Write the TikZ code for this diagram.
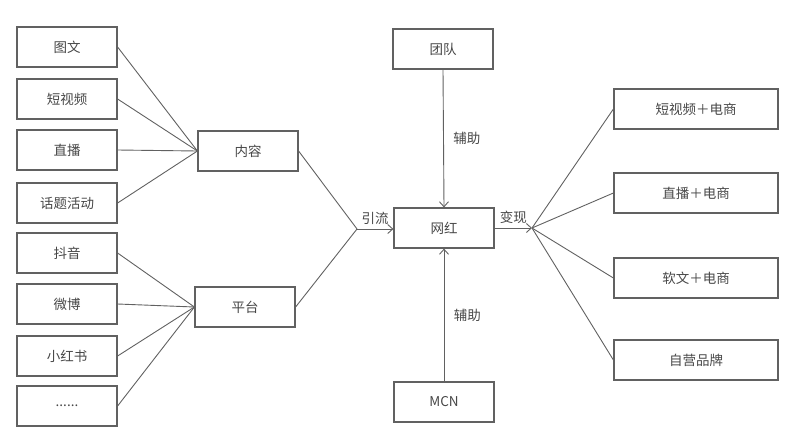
\documentclass[tikz,border=0pt]{standalone}
\usepackage{fontspec}
\newfontfamily\cjk{Noto Sans CJK SC}
\usetikzlibrary{arrows.meta}

\begin{document}
\begin{tikzpicture}[x=1pt,y=-1pt,
    box/.style={draw=black!62, line width=1.2pt, minimum width=100pt, minimum height=40pt,
        inner sep=0pt, font=\cjk\fontsize{13.5}{15}\selectfont, text=black!72},
    widebox/.style={box, minimum width=164pt},
    link/.style={draw=black!62, line width=0.9pt},
    tip/.style={link, -{Straight Barb[length=5pt,width=9pt]}},
    lbl/.style={font=\cjk\fontsize{13.5}{15}\selectfont, text=black!72}]
    \useasboundingbox (0,0) rectangle (800,442);

    % left column
    \node[box] (tuwen) at (67,47) {图文};
    \node[box] (duanshipin) at (67,99) {短视频};
    \node[box] (zhibo) at (67,150) {直播};
    \node[box] (huati) at (67,203) {话题活动};
    \node[box] (douyin) at (67,253) {抖音};
    \node[box] (weibo) at (67,304) {微博};
    \node[box] (xhs) at (67,356) {小红书};
    \node[box] (more) at (67,406) {......};

    % middle
    \node[box] (neirong) at (248,151) {内容};
    \node[box] (pingtai) at (245,307) {平台};
    \node[box] (wanghong) at (444,228) {网红};
    \node[box] (tuandui) at (443,49) {团队};
    \node[box] (mcn) at (444,402) {MCN};
    \coordinate (yin) at (357,229);
    \coordinate (bian) at (532,228);

    % right column
    \node[widebox] (dsds) at (696,109) {短视频＋电商};
    \node[widebox] (zbds) at (696,193) {直播＋电商};
    \node[widebox] (rwds) at (696,278) {软文＋电商};
    \node[widebox] (ziying) at (696,360) {自营品牌};

    \draw[link] (tuwen.east) -- (neirong.west);
    \draw[link] (duanshipin.east) -- (neirong.west);
    \draw[link] (zhibo.east) -- (neirong.west);
    \draw[link] (huati.east) -- (neirong.west);
    \draw[link] (douyin.east) -- (pingtai.west);
    \draw[link] (weibo.east) -- (pingtai.west);
    \draw[link] (xhs.east) -- (pingtai.west);
    \draw[link] (more.east) -- (pingtai.west);

    \draw[link] (neirong.east) -- (yin);
    \draw[link] (pingtai.east) -- (yin);
    \draw[tip] (yin) -- (wanghong.west |- yin) node[lbl, midway, above=1pt] {引流};

    \draw[tip] (tuandui.south) -- (wanghong.north) node[lbl, midway, right=6pt] {辅助};
    \draw[tip] (mcn.north) -- (wanghong.south) node[lbl, midway, right=6pt] {辅助};

    \draw[tip] (wanghong.east) -- (bian) node[lbl, midway, above=1pt] {变现};
    \draw[link] (bian) -- (dsds.west);
    \draw[link] (bian) -- (zbds.west);
    \draw[link] (bian) -- (rwds.west);
    \draw[link] (bian) -- (ziying.west);
\end{tikzpicture}
\end{document}
